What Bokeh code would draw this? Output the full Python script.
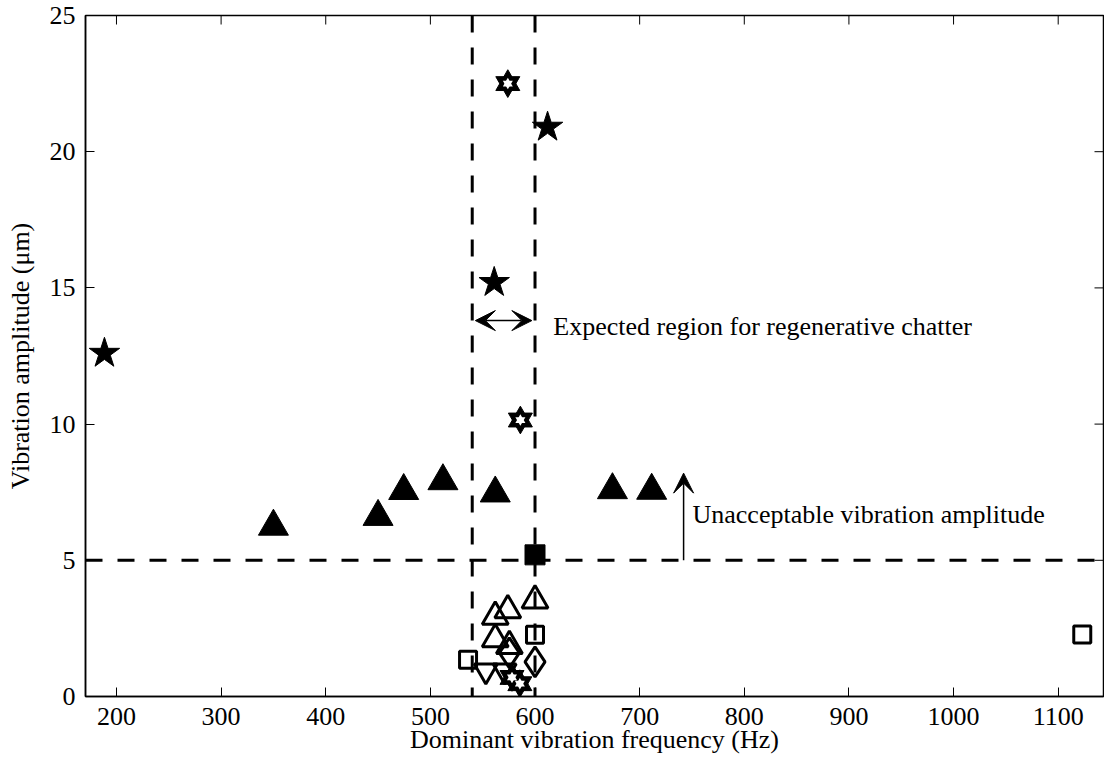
from bokeh.plotting import figure
from bokeh.models import Span, Label, Arrow, VeeHead, FixedTicker
from bokeh.embed import file_html
from bokeh.resources import INLINE

# ---------------- data ----------------
x_ticks = [200, 300, 400, 500, 600, 700, 800, 900, 1000, 1100]
y_ticks = [0, 5, 10, 15, 20, 25]
x_lim = (170.4, 1143.3)
y_lim = (0, 25)

filled_star_freq = [188.5, 561.0, 612.0]
filled_star_amp = [12.6, 15.2, 20.9]

hexagram_freq = [574.0, 586.0, 578.0, 585.5]
hexagram_amp = [22.5, 10.15, 0.7, 0.47]

filled_tri_freq = [350.0, 450.0, 474.5, 512.0, 562.0, 674.0, 711.5]
filled_tri_amp = [6.24, 6.60, 7.55, 7.91, 7.46, 7.58, 7.56]

filled_sq_freq = [600.0]
filled_sq_amp = [5.2]

open_sq_freq = [536.0, 600.0, 1123.0]
open_sq_amp = [1.35, 2.27, 2.28]

open_tri_freq = [600.0, 574.0, 562.0, 562.0, 575.5]
open_tri_amp = [3.52, 3.17, 2.93, 2.10, 1.85]

open_dia_freq = [575.5, 600.0]
open_dia_amp = [1.6, 1.27]

open_inv_tri_freq = [553.0, 571.0]
open_inv_tri_amp = [0.95, 0.95]

chatter_band = [540, 600]
amp_limit = 5

FONT = "Liberation Serif"
FS = "26px"

p = figure(frame_width=1018, frame_height=681,
           x_range=x_lim, y_range=y_lim,
           output_backend="svg", toolbar_location=None,
           min_border_left=85, min_border_top=15,
           min_border_right=1, min_border_bottom=73)
p.background_fill_color = "white"
p.border_fill_color = "white"
p.outline_line_color = "black"
p.outline_line_width = 1.5
p.xgrid.visible = False
p.ygrid.visible = False

p.xaxis.ticker = FixedTicker(ticks=x_ticks)
p.yaxis.ticker = FixedTicker(ticks=y_ticks)
p.xaxis.axis_label = "Dominant vibration frequency (Hz)"
p.yaxis.axis_label = "Vibration amplitude (\u03bcm)"

def style(ax):
    ax.major_tick_in = 9
    ax.major_tick_out = 0
    ax.minor_tick_in = 0
    ax.minor_tick_out = 0
    ax.axis_line_width = 1.5
    ax.axis_line_color = "black"
    ax.major_tick_line_color = "black"
    ax.major_tick_line_width = 1
    ax.major_label_text_font = FONT
    ax.major_label_text_font_size = FS
    ax.major_label_text_color = "black"
    ax.axis_label_text_font = FONT
    ax.axis_label_text_font_size = FS
    ax.axis_label_text_font_style = "normal"
    ax.axis_label_text_color = "black"

for ax in p.xaxis:
    style(ax)
    ax.major_label_standoff = 11
    ax.axis_label_standoff = -3
for ax in p.yaxis:
    style(ax)
    ax.major_label_standoff = 10
    ax.axis_label_standoff = 12

# inward ticks on the top and right edges of the box
p.ray(x=x_ticks, y=[y_lim[1]] * len(x_ticks), length=9, length_units="screen",
      angle=-90, angle_units="deg", line_color="black", line_width=1)
p.ray(x=[x_lim[1]] * len(y_ticks), y=y_ticks, length=9, length_units="screen",
      angle=180, angle_units="deg", line_color="black", line_width=1)

# reference lines
for xv in chatter_band:
    p.add_layout(Span(location=xv, dimension="height", line_color="black",
                      line_width=3, line_dash="17 15"))
p.add_layout(Span(location=amp_limit, dimension="width", line_color="black",
                  line_width=3, line_dash="17 15"))

# markers
p.scatter(filled_tri_freq, filled_tri_amp, marker="triangle", size=30,
          fill_color="black", line_color="black", line_width=1)
p.scatter(filled_star_freq, filled_star_amp, marker="star", size=32,
          fill_color="black", line_color="black", line_width=1)
p.scatter(filled_sq_freq, filled_sq_amp, marker="square", size=20,
          fill_color="black", line_color="black", line_width=1)
p.scatter(open_sq_freq, open_sq_amp, marker="square", size=17,
          fill_color=None, line_color="black", line_width=3)
p.scatter(open_tri_freq, open_tri_amp, marker="triangle", size=26,
          fill_color=None, line_color="black", line_width=3)
p.scatter(open_dia_freq, open_dia_amp, marker="diamond", size=30,
          fill_color=None, line_color="black", line_width=3)
p.scatter(open_inv_tri_freq, open_inv_tri_amp, marker="inverted_triangle", size=23,
          fill_color=None, line_color="black", line_width=3)
# hexagram: two black triangles with a small white hexagram inside
for mk in ("triangle", "inverted_triangle"):
    p.scatter(hexagram_freq, hexagram_amp, marker=mk, size=24,
              fill_color="black", line_color="black", line_width=1)
for mk in ("triangle", "inverted_triangle"):
    p.scatter(hexagram_freq, hexagram_amp, marker=mk, size=10,
              fill_color="white", line_color=None)

# annotations
p.add_layout(Arrow(start=VeeHead(size=20, fill_color="black", line_color="black"),
                   end=VeeHead(size=20, fill_color="black", line_color="black"),
                   x_start=543, y_start=13.8, x_end=597, y_end=13.8,
                   line_color="black", line_width=1.5))
p.add_layout(Label(x=617.5, y=13.58, text="Expected region for regenerative chatter",
                   text_font=FONT, text_font_size=FS, text_color="black",
                   text_baseline="middle", text_align="left"))

p.add_layout(Arrow(end=VeeHead(size=20, fill_color="black", line_color="black"),
                   x_start=742, y_start=amp_limit, x_end=742, y_end=8.2,
                   line_color="black", line_width=1.5))
p.add_layout(Label(x=750.5, y=6.68, text="Unacceptable vibration amplitude",
                   text_font=FONT, text_font_size=FS, text_color="black",
                   text_baseline="middle", text_align="left"))

open("out.html", "w").write(file_html(p, INLINE))
